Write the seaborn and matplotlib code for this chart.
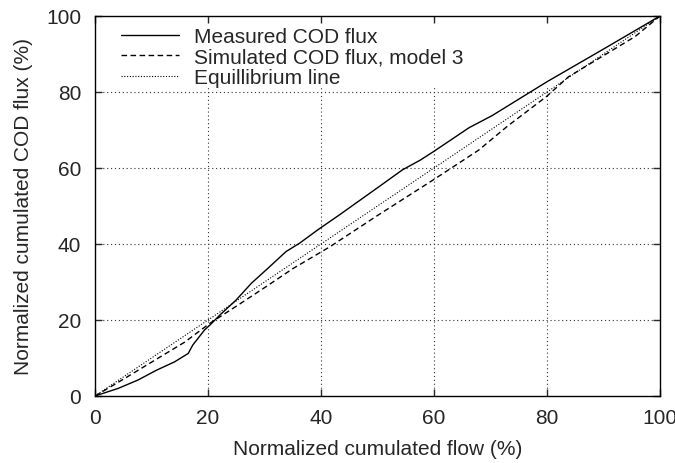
import matplotlib
matplotlib.use("Agg")
import matplotlib.pyplot as plt
import seaborn as sns
import pandas as pd

# Data
measured_x = [0, 0.6, 4.1, 7.6, 10.9, 14.1, 16.5, 17.3, 19.4, 20.3, 22.1, 25.0, 27.7, 30.6,
              33.8, 36.2, 39.5, 43.2, 50, 54.4, 57.6, 60, 66.2, 70.3, 80, 90, 100]
measured_y = [0, 0.3, 2.0, 4.2, 6.8, 9.0, 11.2, 13.4, 17.4, 18.6, 21.3, 25.3, 29.7, 33.6,
              38.0, 40.2, 43.8, 47.6, 54.8, 59.5, 62.1, 64.4, 70.6, 73.8, 82.7, 91.3, 100]

simulated_x = [0, 5, 10, 15.9, 20.3, 25.6, 30.3, 35, 41.5, 50, 60, 67.9, 73, 79.9,
               83.8, 89.7, 95.6, 100]
simulated_y = [0, 4.4, 8.9, 14.2, 19.1, 24.2, 28.8, 33.5, 39.2, 47.5, 57.0, 64.7, 71, 78.8,
               84.0, 89.3, 94.6, 100]

equil_x = [0, 100]
equil_y = [0, 100]

labels = ["Measured COD flux", "Simulated COD flux, model 3", "Equillibrium line"]
ticks = [0, 20, 40, 60, 80, 100]

sns.set_style("ticks")
plt.rcParams["font.family"] = ["Liberation Sans", "DejaVu Sans"]
FS = 15

fig = plt.figure(figsize=(6.75, 4.64), dpi=100)
ax = fig.add_axes([95 / 675, 1 - 397 / 464, (660 - 95) / 675, (397 - 17) / 464])

df_m = pd.DataFrame({"x": measured_x, "y": measured_y})
df_s = pd.DataFrame({"x": simulated_x, "y": simulated_y})
df_e = pd.DataFrame({"x": equil_x, "y": equil_y})

sns.lineplot(data=df_m, x="x", y="y", ax=ax, color="black", lw=1.0,
             label=labels[0], sort=False)
sns.lineplot(data=df_s, x="x", y="y", ax=ax, color="black", lw=1.0,
             linestyle=(0, (4, 2.5)), label=labels[1], sort=False)
sns.lineplot(data=df_e, x="x", y="y", ax=ax, color="black", lw=0.8,
             linestyle=(0, (1, 1.5)), label=labels[2], sort=False)

ax.set_xlim(0, 100)
ax.set_ylim(0, 100)
ax.set_xticks(ticks)
ax.set_yticks(ticks)
ax.set_xticklabels([str(t) for t in ticks], fontsize=FS)
ax.set_yticklabels([str(t) for t in ticks], fontsize=FS)
ax.tick_params(axis="x", direction="in", length=5, width=1, top=True, pad=9)
ax.tick_params(axis="y", direction="in", length=5, width=1, right=True, pad=10)

grid_kw = dict(color="#333333", linestyle=(0, (1, 2.5)), lw=0.8, zorder=0.6)
ax.grid(False)
for t in ticks[1:-1]:
    ax.axhline(t, **grid_kw)
    ax.axvline(t, ymax=0.815, **grid_kw)

for s in ax.spines.values():
    s.set_color("black")
    s.set_linewidth(1.0)

ax.set_xlabel("Normalized cumulated flow (%)", fontsize=FS)
ax.set_ylabel("Normalized cumulated COD flux (%)", fontsize=FS)
ax.xaxis.set_label_coords(0.5, (397 - 440) / 380)
ax.yaxis.set_label_coords((33 - 95) / 565, 0.5)

leg = ax.legend(loc="upper left", frameon=False, fontsize=FS, handlelength=2.8,
                handletextpad=0.7, labelspacing=0.07, borderaxespad=0.0,
                borderpad=0.0, bbox_to_anchor=(26 / 565, 1 - 11 / 380))

fig.savefig("out.png", dpi=100)
